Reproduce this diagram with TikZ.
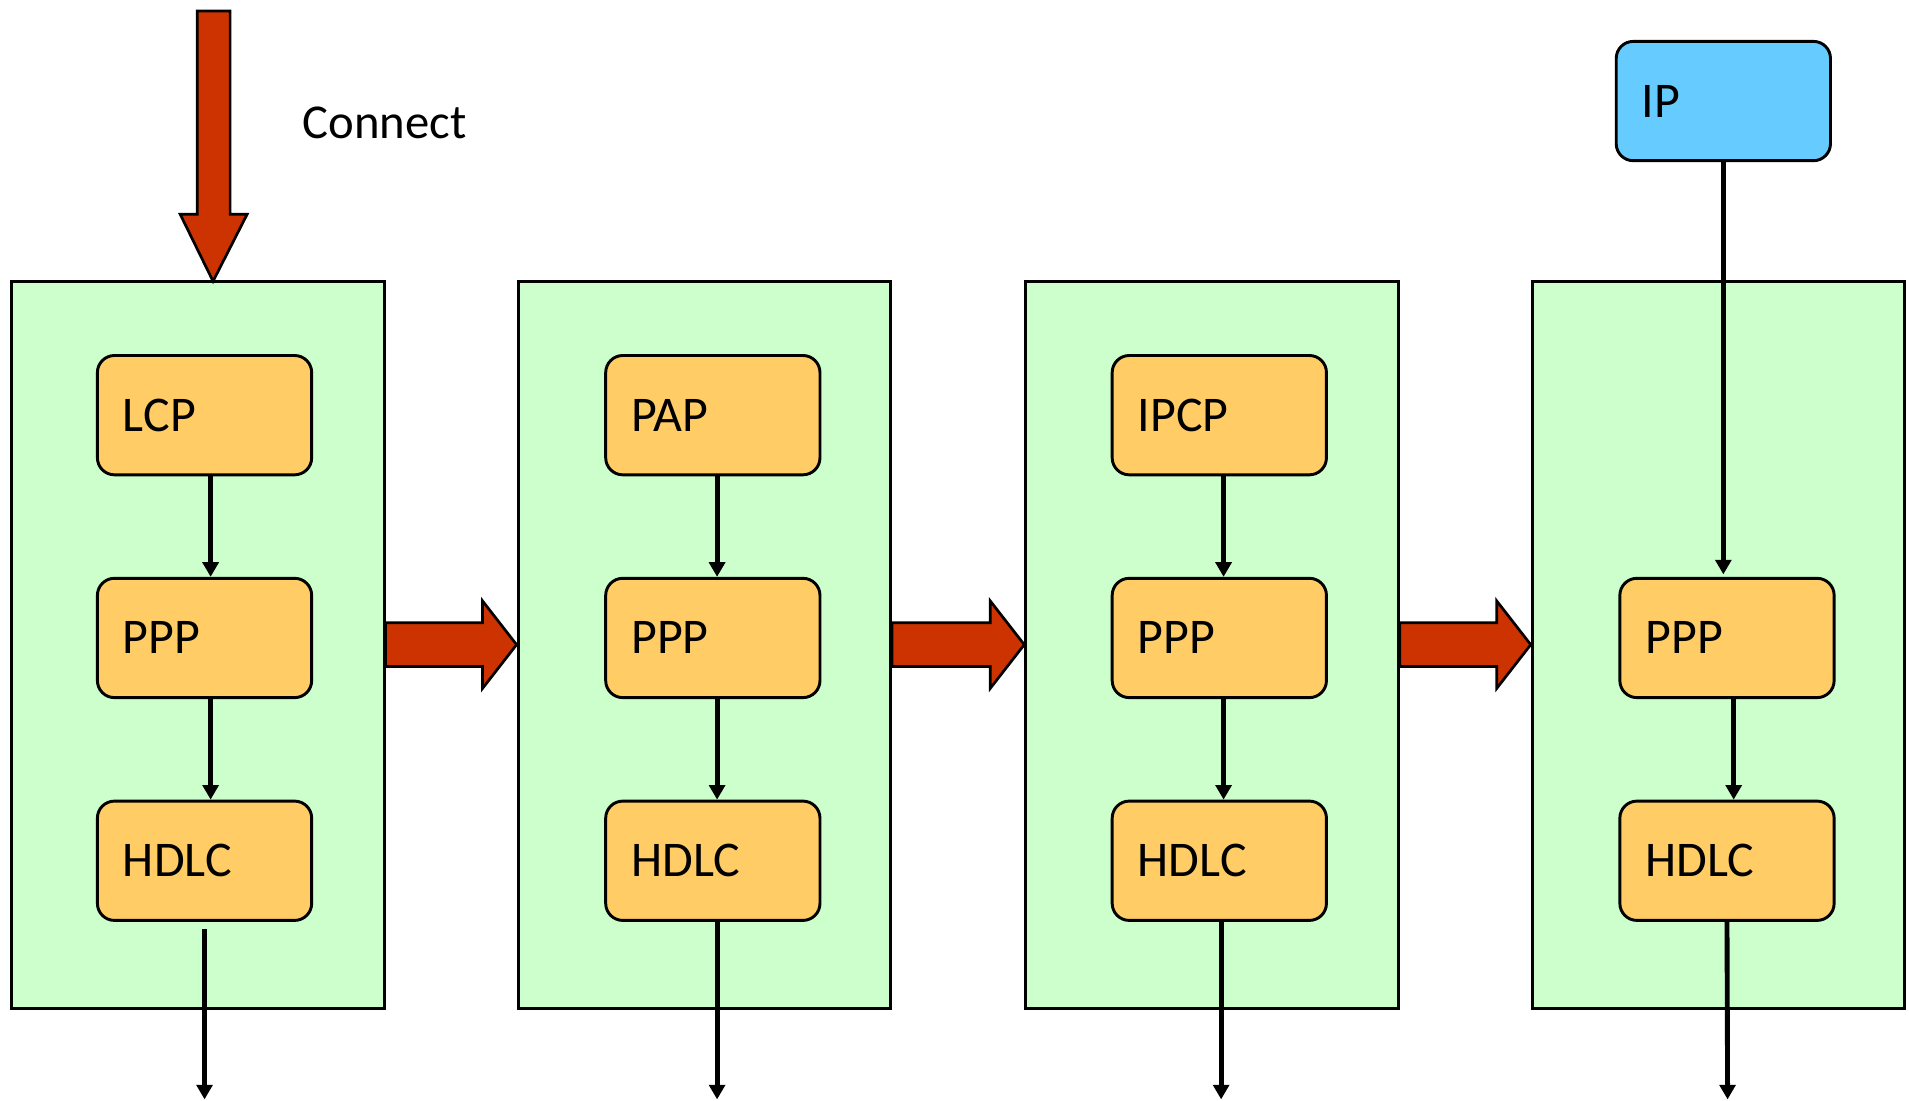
\documentclass[tikz,border=0pt]{standalone}
\usepackage{fontspec}
\setmainfont{Carlito}
\usetikzlibrary{arrows.meta,calc}

\definecolor{panelgreen}{HTML}{CCFFCC}
\definecolor{protoorange}{HTML}{FFCC66}
\definecolor{ipblue}{HTML}{66CCFF}
\definecolor{arrowred}{HTML}{CC3300}

\tikzset{
  layer/.style={draw, line width=1.2pt, fill=panelgreen, minimum width=153pt, minimum height=298.5pt, inner sep=0pt},
  proto/.style={draw, line width=1.2pt, fill=protoorange, rounded corners=7pt, minimum width=88pt, minimum height=49pt,
    text width=67pt, inner xsep=10.5pt, align=left, font=\fontsize{20.5}{24}\selectfont},
  flow/.style={line width=2pt, -{Triangle[width=6.5pt,length=6pt]}},
  bigarrow/.style={draw, line width=1.1pt, fill=arrowred, line join=miter},
}

\begin{document}
\begin{tikzpicture}[x=0.5pt, y=-0.5pt]
    \useasboundingbox (0,0) rectangle (1568,904);

    % layers
    \node[layer] (p1) at (162.5,529.5) {};
    \node[layer] (p2) at (578.5,529.5) {};
    \node[layer] (p3) at (995.5,529.5) {};
    \node[layer] (p4) at (1411.5,529.5) {};

    % protocol boxes
    \node[proto] (lcp)   at (168,341) {LCP};
    \node[proto] (ppp1)  at (168,524) {PPP};
    \node[proto] (hdlc1) at (168,707) {HDLC};

    \node[proto] (pap)   at (585.5,341) {PAP};
    \node[proto] (ppp2)  at (585.5,524) {PPP};
    \node[proto] (hdlc2) at (585.5,707) {HDLC};

    \node[proto] (ipcp)  at (1001.5,341) {IPCP};
    \node[proto] (ppp3)  at (1001.5,524) {PPP};
    \node[proto] (hdlc3) at (1001.5,707) {HDLC};

    \node[proto, fill=ipblue] (ip) at (1415.5,83) {IP};
    \node[proto] (ppp4)  at (1418.5,524) {PPP};
    \node[proto] (hdlc4) at (1418.5,707) {HDLC};

    % connect
    \coordinate (ctip) at (175,231);
    \draw[bigarrow] (162,9) -- (189,9) -- (189,176) -- (203,176) -- (ctip) -- (148,176) -- (162,176) -- cycle;
    \node[anchor=west, inner sep=0pt, font=\fontsize{20}{24}\selectfont] (connect) at (248,101) {Connect};

    % phase arrows
    \foreach \a/\b in {p1/p2, p2/p3, p3/p4}
      \draw[bigarrow] ($(\a.east)+(0,-18)$) -- ($(\b.west)+(-28,-18)$) -- ($(\b.west)+(-28,-36)$)
        -- (\b.west) -- ($(\b.west)+(-28,36)$) -- ($(\b.west)+(-28,18)$) -- ($(\a.east)+(0,18)$) -- cycle;

    % inner arrows
    \draw[flow] ([xshift=2.5pt]lcp.south) -- ([xshift=2.5pt]ppp1.north);
    \draw[flow] ([xshift=2.5pt]ppp1.south) -- ([xshift=2.5pt]hdlc1.north);
    \draw[flow] ([xshift=1.75pt]pap.south) -- ([xshift=1.75pt]ppp2.north);
    \draw[flow] ([xshift=1.75pt]ppp2.south) -- ([xshift=1.75pt]hdlc2.north);
    \draw[flow] ([xshift=1.75pt]ipcp.south) -- ([xshift=1.75pt]ppp3.north);
    \draw[flow] ([xshift=1.75pt]ppp3.south) -- ([xshift=1.75pt]hdlc3.north);
    \draw[flow] (ip.south) -- ([yshift=1pt]ip.south |- ppp4.north);
    \draw[flow] ([xshift=2.75pt]ppp4.south) -- ([xshift=2.75pt]hdlc4.north);

    % out of the layers
    \coordinate (out1) at (168,903);
    \coordinate (out2) at (589,903);
    \coordinate (out3) at (1003,903);
    \coordinate (out4) at (1419,903);
    \draw[flow] ([yshift=-3pt]hdlc1.south) -- (out1);
    \draw[flow] ([xshift=1.75pt]hdlc2.south) -- (out2);
    \draw[flow] ([xshift=0.75pt]hdlc3.south) -- (out3);
    \draw[flow] (hdlc4.south) -- (out4);
\end{tikzpicture}
\end{document}
